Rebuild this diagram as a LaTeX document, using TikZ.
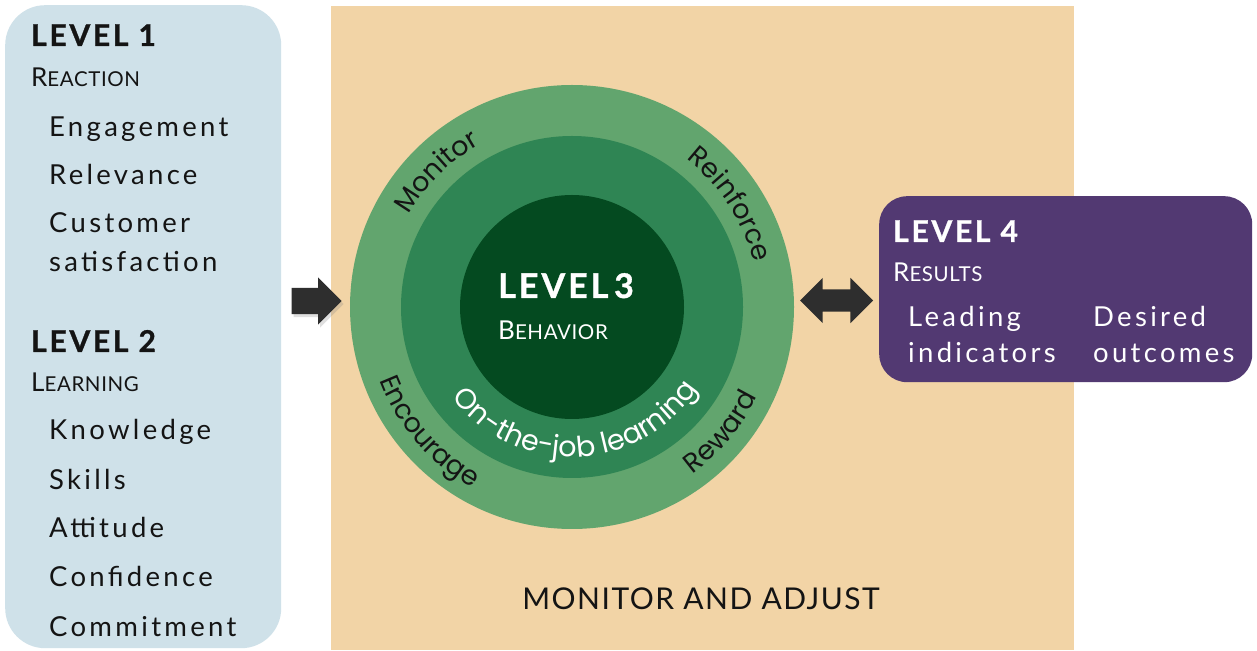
\documentclass[tikz,border=0pt]{standalone}
\usepackage{fontspec}
\setmainfont{Lato}
\newfontfamily\geo{Poppins}
\newfontfamily\itemfam{Lato}[LetterSpace=12]
\newfontfamily\levfam{Lato}[LetterSpace=9]
\newfontfamily\scfam{Lato}[LetterSpace=3]
\newfontfamily\madfam{Lato}[LetterSpace=5]
\usetikzlibrary{decorations.text,shapes.arrows,shadows}
\definecolor{bluebox}{RGB}{207,225,233}
\definecolor{tanbg}{RGB}{242,212,166}
\definecolor{ringA}{RGB}{98,165,110}
\definecolor{ringB}{RGB}{47,133,84}
\definecolor{ringC}{RGB}{4,74,32}
\definecolor{purplebox}{RGB}{82,57,114}
\definecolor{arrowgray}{RGB}{46,46,46}
\definecolor{inkblack}{RGB}{20,20,20}
\newcommand\itemfont{\itemfam\fontsize{27.5}{27.5}\selectfont}
\newcommand\levfont{\levfam\fontsize{30}{30}\selectfont\bfseries\addfontfeature{FakeBold=1}}
\newcommand\fsc[2]{{\scfam\fontsize{26}{26}\selectfont #1}{\scfam\fontsize{20.5}{20.5}\selectfont #2}}
\newcommand\circfont{\geo\fontsize{27}{27}\selectfont}
\newcommand\ojfont{\geo\fontsize{28.5}{28.5}\selectfont}
\begin{document}
\begin{tikzpicture}[x=1pt,y=1pt,
  itemtext/.style={anchor=base west,inner sep=0pt,font=\itemfont,text=inkblack},
  levtext/.style={anchor=base west,inner sep=0pt,font=\levfont,text=inkblack},
  sctext/.style={anchor=base west,inner sep=0pt,text=inkblack},
  ringtext/.style={decorate,decoration={text along path,text align=center,text color=#1}},
  blockarrow/.style={fill=arrowgray,draw=none,inner xsep=0pt}]
\useasboundingbox (0,0) rectangle (1257,650);
\fill[white] (0,0) rectangle (1257,650);
% panels
\node[fill=bluebox,rounded corners=40,minimum width=276,minimum height=643,inner sep=0,anchor=north west] (lvl12) at (5,645) {};
\node[fill=tanbg,minimum width=743,minimum height=644,inner sep=0,anchor=north west] (monitor) at (331,644) {};
\node[fill=purplebox,rounded corners=28,minimum width=373,minimum height=186,inner sep=0,anchor=north west] (lvl4) at (879,454) {};
% circles
\node[circle,fill=ringA,minimum size=444,inner sep=0] (outer) at (572,343) {};
\node[circle,fill=ringB,minimum size=342,inner sep=0] (middle) at (572,343) {};
\node[circle,fill=ringC,minimum size=224,inner sep=0] (inner) at (572,343) {};
% ring texts
\path[ringtext=inkblack,decoration={text={|\circfont|Monitor}}] (572,343) ++(175:187) arc[start angle=175,end angle=95,radius=187];
\path[ringtext=inkblack,decoration={text={|\circfont|Reinforce}}] (572,343) ++(80:187) arc[start angle=80,end angle=-14,radius=187];
\path[ringtext=inkblack,decoration={text={|\circfont|Encourage}}] (572,343) ++(171:206) arc[start angle=171,end angle=271,radius=206];
\path[ringtext=inkblack,decoration={text={|\circfont|Reward}}] (572,343) ++(285:206) arc[start angle=285,end angle=355,radius=206];
\path[ringtext=white,decoration={text={|\ojfont|On-the-job learning}}] (572,343) ++(190:150) arc[start angle=190,end angle=354,radius=150];
% level 3
\node[anchor=base west,inner sep=0,font=\levfont\fontsize{34}{34}\selectfont,text=white] (l3) at (498,352) {LEVEL\,3};
\node[anchor=base west,inner sep=0,text=white] (beh) at (498,310) {\fsc{B}{EHAVIOR}};
% left panel texts
\node[levtext] (l1) at (31,604) {LEVEL 1};
\node[sctext] (react) at (31,563) {\fsc{R}{EACTION}};
\node[itemtext] (eng) at (49,513) {Engagement};
\node[itemtext] (rel) at (49,465) {Relevance};
\node[itemtext] (cus) at (49,417) {Customer};
\node[itemtext] (sat) at (49,378) {satisfaction};
\node[levtext] (l2) at (31,298) {LEVEL 2};
\node[sctext] (learn) at (31,258) {\fsc{L}{EARNING}};
\node[itemtext] (kno) at (49,210) {Knowledge};
\node[itemtext] (ski) at (49,160) {Skills};
\node[itemtext] (att) at (49,112) {Attitude};
\node[itemtext] (con) at (49,63) {Confidence};
\node[itemtext] (com) at (49,14) {Commitment};
% level 4 texts
\node[levtext,text=white] (l4) at (893,408) {LEVEL 4};
\node[sctext,text=white] (res) at (893,368) {\fsc{R}{ESULTS}};
\node[itemtext,text=white] (lead) at (908,323) {Leading};
\node[itemtext,text=white] (ind) at (908,287) {indicators};
\node[itemtext,text=white] (des) at (1093,323) {Desired};
\node[itemtext,text=white] (out) at (1093,287) {outcomes};
% monitor and adjust
\node[anchor=base,inner sep=0,font=\madfam\fontsize{30}{30}\selectfont,text=inkblack] (mad) at (701,40) {MONITOR AND ADJUST};
% arrows
\node[blockarrow,single arrow,minimum height=50,single arrow head extend=10.5,inner ysep=13pt,anchor=tip,drop shadow={opacity=0.25,shadow xshift=2pt,shadow yshift=-3pt}] (inarrow) at (342,349) {};
\node[blockarrow,double arrow,minimum height=73,double arrow head extend=11.5,inner ysep=11pt] (biarrow) at (836.5,349.5) {};
\end{tikzpicture}
\end{document}
